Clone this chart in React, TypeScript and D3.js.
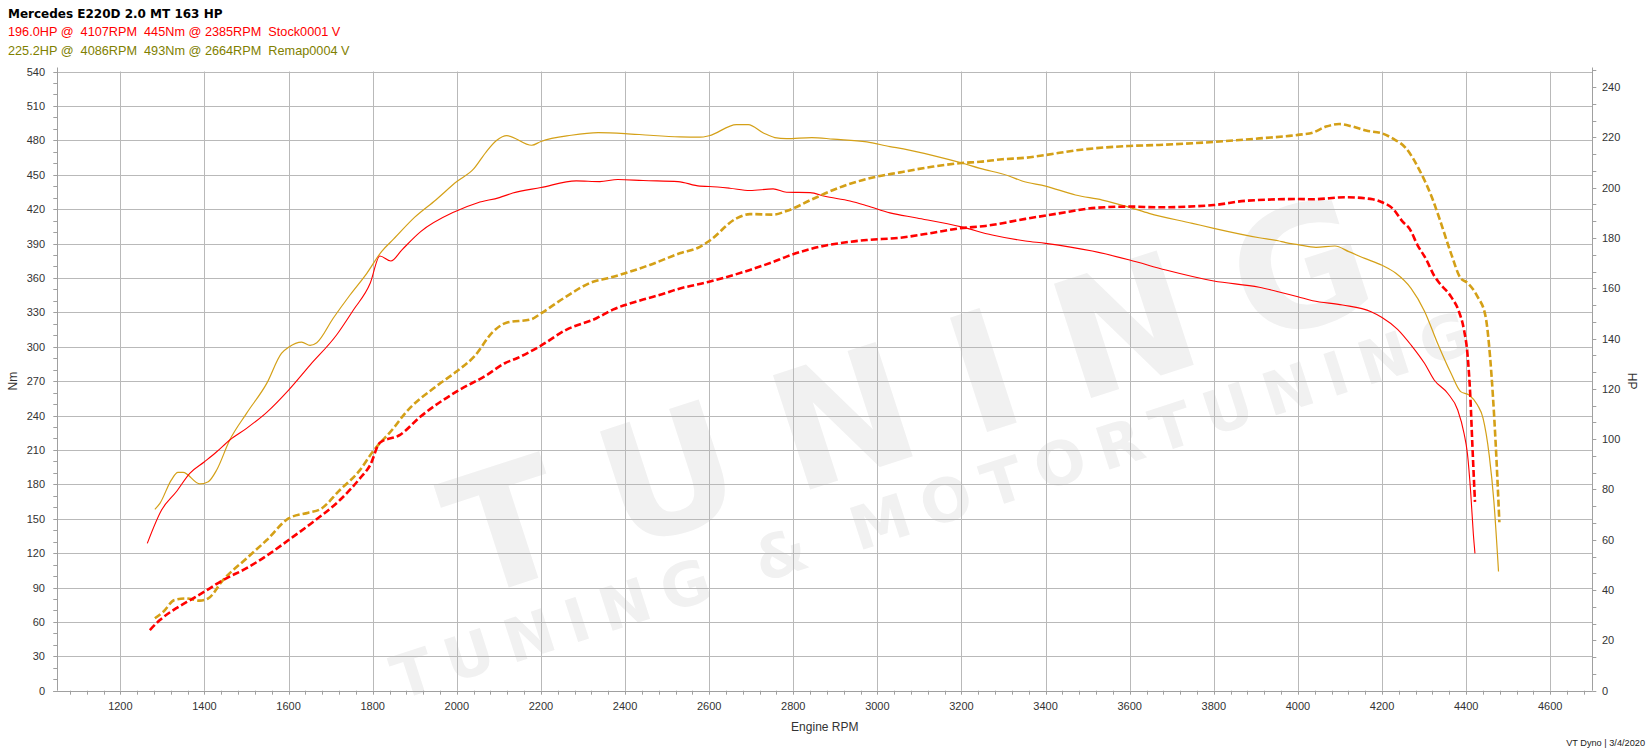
import React from "react";
import * as d3 from "d3";

const titleText = "Mercedes E220D 2.0 MT 163 HP";
const stockLabel = "196.0HP @  4107RPM  445Nm @ 2385RPM  Stock0001 V";
const remapLabel = "225.2HP @  4086RPM  493Nm @ 2664RPM  Remap0004 V";
const footerText = "VT Dyno | 3/4/2020";

const nmTicks = [0, 30, 60, 90, 120, 150, 180, 210, 240, 270, 300, 330, 360, 390, 420, 450, 480, 510, 540];
const hpTicks = [0, 20, 40, 60, 80, 100, 120, 140, 160, 180, 200, 220, 240];
const rpmTicks = [1200, 1400, 1600, 1800, 2000, 2200, 2400, 2600, 2800, 3000, 3200, 3400, 3600, 3800, 4000, 4200, 4400, 4600];

const stockTorqueRpm = [1264, 1298, 1333, 1365, 1400, 1429, 1460, 1500, 1548, 1600, 1651, 1714, 1754, 1794, 1817, 1843, 1869, 1914, 1995, 2050, 2101, 2133, 2200, 2284, 2340, 2383, 2443, 2526, 2578, 2600, 2649, 2697, 2752, 2784, 2840, 2875, 2935, 2975, 3030, 3094, 3200, 3273, 3352, 3400, 3511, 3600, 3686, 3800, 3908, 3953, 4000, 4035, 4106, 4174, 4200, 4237, 4269, 4301, 4324, 4356, 4380, 4395, 4403, 4411, 4417, 4421];
const stockTorqueNm = [128.5, 157.6, 173.5, 189.6, 199.7, 208.4, 218.6, 228.8, 242.8, 262.2, 284, 310.2, 332, 355.3, 379.1, 374.7, 384.3, 400.3, 417.7, 425.6, 430, 434, 438.8, 444.6, 444, 445.8, 444.9, 444, 440, 439.7, 438.2, 436.2, 437.6, 434.7, 434.4, 431.2, 427.1, 423, 416.7, 412.3, 404.5, 397.4, 392.2, 390.1, 383.4, 375.6, 366.9, 357.3, 351.8, 348, 343.6, 340.1, 336.4, 330.5, 325.5, 315.2, 301.5, 285.5, 271, 259.4, 244.8, 224.5, 207, 172.1, 137.3, 119.8];

const stockPowerRpm = [1270, 1294, 1333, 1373, 1400, 1444, 1500, 1556, 1600, 1659, 1722, 1770, 1794, 1817, 1865, 1913, 2000, 2071, 2114, 2143, 2200, 2259, 2332, 2371, 2443, 2495, 2522, 2600, 2697, 2752, 2784, 2840, 2935, 2975, 3054, 3133, 3194, 3257, 3352, 3432, 3519, 3600, 3670, 3800, 3876, 4000, 4035, 4114, 4178, 4200, 4225, 4249, 4265, 4285, 4305, 4324, 4337, 4364, 4383, 4395, 4403, 4410, 4415, 4421];
const stockPowerHp = [24.1, 28.1, 32.8, 36.7, 39.4, 44, 48.7, 54.6, 59.9, 67.2, 75.8, 84.5, 89.7, 98.6, 101.7, 108.9, 119, 125.5, 130.2, 132.2, 137.2, 143.4, 148.1, 151.5, 155.5, 158, 159.5, 162.6, 167.3, 170.5, 172.6, 175.6, 178.5, 179.2, 180.1, 182.1, 183.8, 184.8, 187.6, 189.8, 192, 192.5, 192.2, 193.1, 194.8, 195.5, 195.4, 196.2, 195.4, 194.2, 191.8, 186.5, 183.8, 177, 171.5, 165, 162, 156.7, 150.7, 143.4, 134.2, 116.9, 97, 75.1];

const remapTorqueRpm = [1282, 1294, 1321, 1337, 1349, 1389, 1409, 1429, 1460, 1500, 1548, 1583, 1600, 1631, 1651, 1667, 1706, 1746, 1786, 1821, 1850, 1900, 1950, 2000, 2040, 2070, 2095, 2119, 2178, 2200, 2272, 2336, 2400, 2459, 2530, 2578, 2600, 2665, 2693, 2729, 2756, 2784, 2844, 2895, 2975, 3030, 3062, 3133, 3200, 3244, 3313, 3344, 3400, 3471, 3535, 3600, 3646, 3749, 3800, 3908, 3953, 3971, 4000, 4043, 4088, 4121, 4159, 4200, 4233, 4269, 4301, 4332, 4364, 4387, 4407, 4427, 4440, 4455, 4466, 4477];
const remapTorqueNm = [158.2, 163.4, 183.7, 190.4, 190.4, 180.3, 182.3, 192.5, 218.6, 241.9, 268, 294.2, 299.5, 304, 301.2, 303.5, 324.8, 345.1, 364, 383, 394, 413, 428, 444, 455, 470, 480, 484, 475.7, 479, 484.4, 486.7, 485.9, 484.4, 483, 482.7, 484, 493.7, 493.7, 486.4, 482.4, 481.5, 482.4, 481, 478.6, 474.5, 472.5, 466.7, 460.3, 455.5, 448.9, 444.5, 440.1, 432.3, 427.9, 421.5, 416.3, 407.6, 403.2, 395, 392.4, 390.7, 389, 386.7, 387.8, 382.9, 377, 371, 364, 350.9, 331, 303, 276.8, 260.8, 257.9, 249.1, 238, 205, 165, 104];

const remapPowerRpm = [1282, 1302, 1329, 1357, 1389, 1409, 1444, 1500, 1548, 1600, 1647, 1675, 1722, 1770, 1800, 1849, 1877, 1950, 2000, 2041, 2086, 2118, 2177, 2200, 2260, 2324, 2359, 2400, 2459, 2530, 2578, 2600, 2665, 2697, 2752, 2784, 2844, 2895, 2975, 3054, 3133, 3200, 3244, 3297, 3352, 3400, 3479, 3600, 3670, 3800, 3908, 4000, 4035, 4067, 4098, 4130, 4162, 4200, 4225, 4257, 4289, 4321, 4337, 4364, 4387, 4403, 4427, 4446, 4457, 4470, 4479];
const remapPowerHp = [28.8, 31.4, 36.1, 36.7, 35.8, 36.7, 44, 52.6, 59.9, 68.5, 70.8, 72.1, 79.8, 87.8, 95, 104.3, 110.3, 120.9, 127, 132.8, 142.7, 146.3, 147.7, 150, 156.7, 162.6, 164, 166, 169.3, 173.9, 176.5, 178.8, 187.8, 189.5, 189.3, 190.7, 195.3, 199.1, 203.5, 206.1, 208.4, 209.8, 210.3, 211.3, 211.9, 213, 215, 216.6, 217, 218.2, 219.6, 221, 221.9, 224.3, 225.3, 224.3, 222.7, 221.6, 219.6, 215.7, 207, 195.1, 187.5, 173.9, 164, 162.2, 156.7, 149, 132.6, 99, 67];

const STOCK_COLOR = "#ff0000";
const REMAP_COLOR = "#d4a017";
const REMAP_TEXT = "#808000";
const GRID = "#b9b9b9";
const AXIS = "#a0a0a0";
const LABEL = "#333333";
const FONT = "'Liberation Sans', Arial, sans-serif";

export default function App() {
  const W = 1648, H = 754;
  const left = 57.3, right = 1592.3, top = 71.5, bottom = 690.7;
  const x = d3.scaleLinear().domain([1050, 4700]).range([left, right]);
  const yNm = d3.scaleLinear().domain([0, 540]).range([bottom, top]);
  const yHp = d3.scaleLinear().domain([0, 246.2]).range([bottom, top]);

  const mk = (rpm: number[], v: number[], y: d3.ScaleLinear<number, number>) =>
    d3.line<number>().x((_, i) => x(rpm[i])).y((d) => y(d)).curve(d3.curveMonotoneX)(v) || "";

  const nmMinor = d3.range(0, 541, 10);
  const hpMinor = d3.range(0, 247, 20 / 3);
  const rpmMinor = d3.range(1080, 4700, 40);

  return (
    <div style={{ position: "fixed", left: 0, top: 0 }}>
      <svg width={W} height={H} style={{ display: "block", background: "#fff" }}>
        {/* watermark */}
        <g fill="#f1f1f1" fontFamily="'DejaVu Sans', sans-serif" fontWeight="bold">
          <text transform="translate(470,600) rotate(-18)" fontSize={165} letterSpacing={48}>TUNING</text>
          <text transform="translate(400,700) rotate(-18)" fontSize={60} letterSpacing={14}>TUNING &amp; MOTORTUNING</text>
        </g>

        {/* header */}
        <text x={8} y={18} fontFamily="'DejaVu Sans', sans-serif" fontWeight="bold" fontSize={12} fill="#000">{titleText}</text>
        <text x={8} y={36} fontFamily={FONT} fontSize={12.7} fill={STOCK_COLOR} style={{ whiteSpace: "pre" }}>{stockLabel}</text>
        <text x={8} y={55} fontFamily={FONT} fontSize={12.7} fill={REMAP_TEXT} style={{ whiteSpace: "pre" }}>{remapLabel}</text>

        {/* grid */}
        <g stroke={GRID} strokeWidth={1}>
          {nmTicks.map((t) => (
            <line key={"h" + t} x1={left} x2={right} y1={Math.round(yNm(t)) + 0.5} y2={Math.round(yNm(t)) + 0.5} />
          ))}
          {rpmTicks.map((t) => (
            <line key={"v" + t} x1={Math.round(x(t)) + 0.5} x2={Math.round(x(t)) + 0.5} y1={top} y2={bottom} />
          ))}
        </g>

        {/* axes */}
        <g stroke={AXIS} strokeWidth={1}>
          <line x1={Math.round(left) + 0.5} x2={Math.round(left) + 0.5} y1={top - 4} y2={bottom} />
          <line x1={Math.round(right) + 0.5} x2={Math.round(right) + 0.5} y1={top - 4} y2={bottom} />
          <line x1={left - 4} x2={right} y1={Math.round(bottom) + 0.5} y2={Math.round(bottom) + 0.5} />
          {nmMinor.map((t) => (
            <line key={"nmt" + t} x1={left - 4} x2={left} y1={Math.round(yNm(t)) + 0.5} y2={Math.round(yNm(t)) + 0.5} />
          ))}
          {hpMinor.map((t, i) => (
            <line key={"hpt" + i} x1={right} x2={right + 4} y1={Math.round(yHp(t)) + 0.5} y2={Math.round(yHp(t)) + 0.5} />
          ))}
          {rpmMinor.map((t) => (
            <line key={"rt" + t} x1={Math.round(x(t)) + 0.5} x2={Math.round(x(t)) + 0.5} y1={bottom} y2={bottom + 4} />
          ))}
        </g>

        {/* tick labels */}
        <g fontFamily={FONT} fontSize={11} fill={LABEL}>
          {nmTicks.map((t) => (
            <text key={"nl" + t} x={45} y={yNm(t) + 4} textAnchor="end">{t}</text>
          ))}
          {hpTicks.map((t) => (
            <text key={"hl" + t} x={1602} y={yHp(t) + 4} textAnchor="start">{t}</text>
          ))}
          {rpmTicks.map((t) => (
            <text key={"rl" + t} x={x(t)} y={710} textAnchor="middle">{t}</text>
          ))}
        </g>

        {/* axis titles */}
        <text x={(left + right) / 2} y={731} textAnchor="middle" fontFamily={FONT} fontSize={12} fill={LABEL}>Engine RPM</text>
        <text transform={`translate(17,${(top + bottom) / 2}) rotate(-90)`} textAnchor="middle" fontFamily={FONT} fontSize={12} fill={LABEL}>Nm</text>
        <text transform={`translate(1628,${(top + bottom) / 2}) rotate(90)`} textAnchor="middle" fontFamily={FONT} fontSize={12} fill={LABEL}>HP</text>
        <text x={1645} y={746} textAnchor="end" fontFamily={FONT} fontSize={9.2} fill="#222">{footerText}</text>

        {/* curves */}
        <g fill="none">
          <path d={mk(remapTorqueRpm, remapTorqueNm, yNm)} stroke={REMAP_COLOR} strokeWidth={1.2} />
          <path d={mk(stockTorqueRpm, stockTorqueNm, yNm)} stroke={STOCK_COLOR} strokeWidth={1.1} />
          <path d={mk(remapPowerRpm, remapPowerHp, yHp)} stroke={REMAP_COLOR} strokeWidth={2.6} strokeDasharray="7,3" />
          <path d={mk(stockPowerRpm, stockPowerHp, yHp)} stroke={STOCK_COLOR} strokeWidth={2.6} strokeDasharray="7,3" />
        </g>
      </svg>
    </div>
  );
}
